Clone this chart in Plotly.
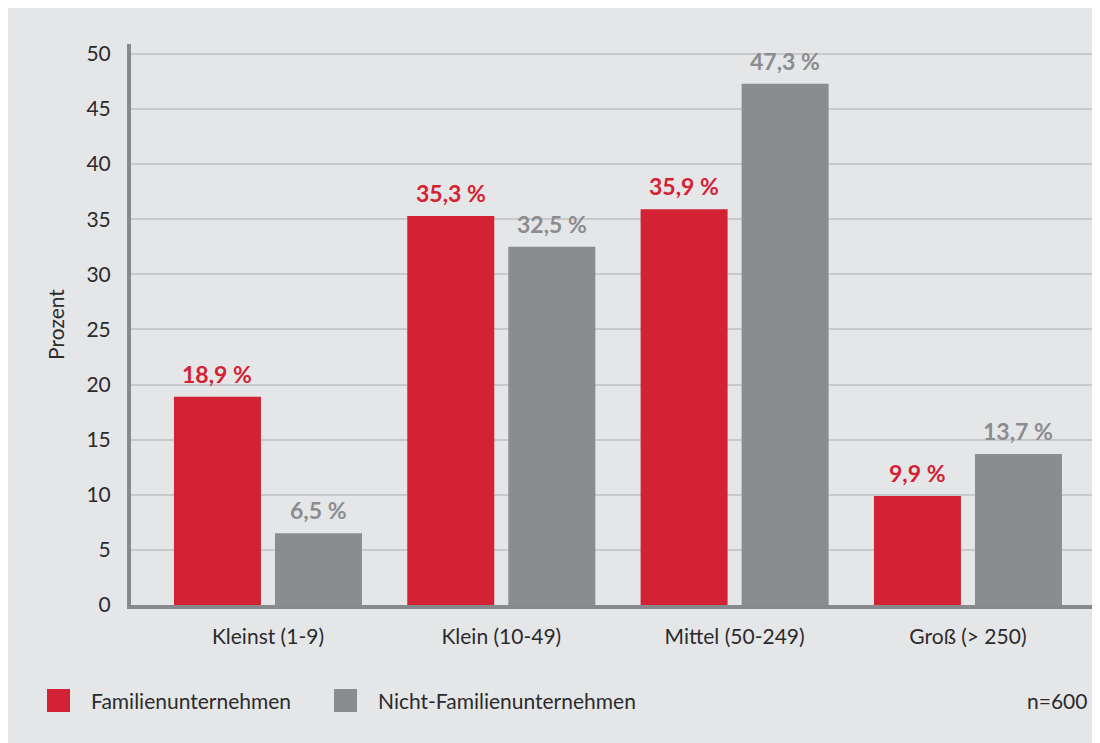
import plotly.graph_objects as go

# Daten
kategorien = ["Kleinst (1-9)", "Klein (10-49)", "Mittel (50-249)", "Groß (> 250)"]
familien = [18.9, 35.3, 35.9, 9.9]
nicht_familien = [6.5, 32.5, 47.3, 13.7]
serien = ["Familienunternehmen", "Nicht-Familienunternehmen"]
y_ticks = [0, 5, 10, 15, 20, 25, 30, 35, 40, 45, 50]
fussnote = "n=600"

ROT = "#d22234"
GRAU = "#8b8c90"
BG = "#e5e6e7"
TXT = "#2b2b2d"
FONT = "Lato"

# die Seite setzt die Grafik um 8 px nach rechts/unten (body margin)
OFF = 8
W, H = 1100, 735
L, R, T, B = 123, 8, 36, 138
PW = W - L - R
PH = H - T - B


def px_x(p):
    # p = Pixel im Screenshot
    return (p - OFF - L) / PW


def px_y(p):
    return (H - B - (p - OFF)) / PH


def fmt(v):
    return f"{v:.1f}".replace(".", ",") + " %"


fig = go.Figure()
fig.add_trace(go.Bar(x=kategorien, y=familien, name=serien[0],
                     marker=dict(color=ROT, line=dict(width=0)), showlegend=False))
fig.add_trace(go.Bar(x=kategorien, y=nicht_familien, name=serien[1],
                     marker=dict(color=GRAU, line=dict(width=0)), showlegend=False))

annots = []
for werte, farbe, shift in [(familien, ROT, -50.5), (nicht_familien, GRAU, 50.5)]:
    for k, v in zip(kategorien, werte):
        annots.append(dict(x=k, y=v, xref="x", yref="y", text=fmt(v), showarrow=False,
                           xshift=shift, yshift=23, yanchor="middle",
                           font=dict(family=FONT, size=23, color=farbe, weight="bold")))

# Legende von Hand (grosse Quadrate)
leg_x = [47, 334]
for name, farbe, x0 in zip(serien, [ROT, GRAU], leg_x):
    fig.add_shape(type="rect", xref="paper", yref="paper",
                  x0=px_x(x0), x1=px_x(x0 + 23), y0=px_y(712), y1=px_y(689),
                  fillcolor=farbe, line=dict(width=0))
    annots.append(dict(x=px_x(x0 + 42), y=px_y(700.5), xref="paper", yref="paper",
                       text=name, showarrow=False, xanchor="left", yanchor="middle",
                       font=dict(family=FONT, size=21, color=TXT)))
annots.append(dict(x=px_x(1089), y=px_y(700.5), xref="paper", yref="paper",
                   text=fussnote, showarrow=False, xanchor="right", yanchor="middle",
                   font=dict(family=FONT, size=21, color=TXT)))

fig.update_layout(
    width=W, height=H,
    margin=dict(l=L, r=R, t=T, b=B, pad=0),
    paper_bgcolor=BG, plot_bgcolor=BG,
    barmode="group", bargap=0.134, bargroupgap=0.139,
    font=dict(family=FONT, size=21, color=TXT),
    annotations=annots,
    xaxis=dict(type="category", range=[-0.587, 3.566], showgrid=False,
               showline=True, linecolor="#88898c", linewidth=4,
               ticks="", ticklabelstandoff=10, tickfont=dict(size=21, color=TXT)),
    yaxis=dict(range=[0, 50.9], tickvals=y_ticks, showgrid=True,
               gridcolor="#c8c9cb", gridwidth=2, zeroline=False,
               showline=True, linecolor="#88898c", linewidth=4,
               ticks="", ticklabelstandoff=12, tickfont=dict(size=21, color=TXT),
               title=dict(text="Prozent", standoff=17, font=dict(size=21, color=TXT))),
)

fig.write_html("out.html")
